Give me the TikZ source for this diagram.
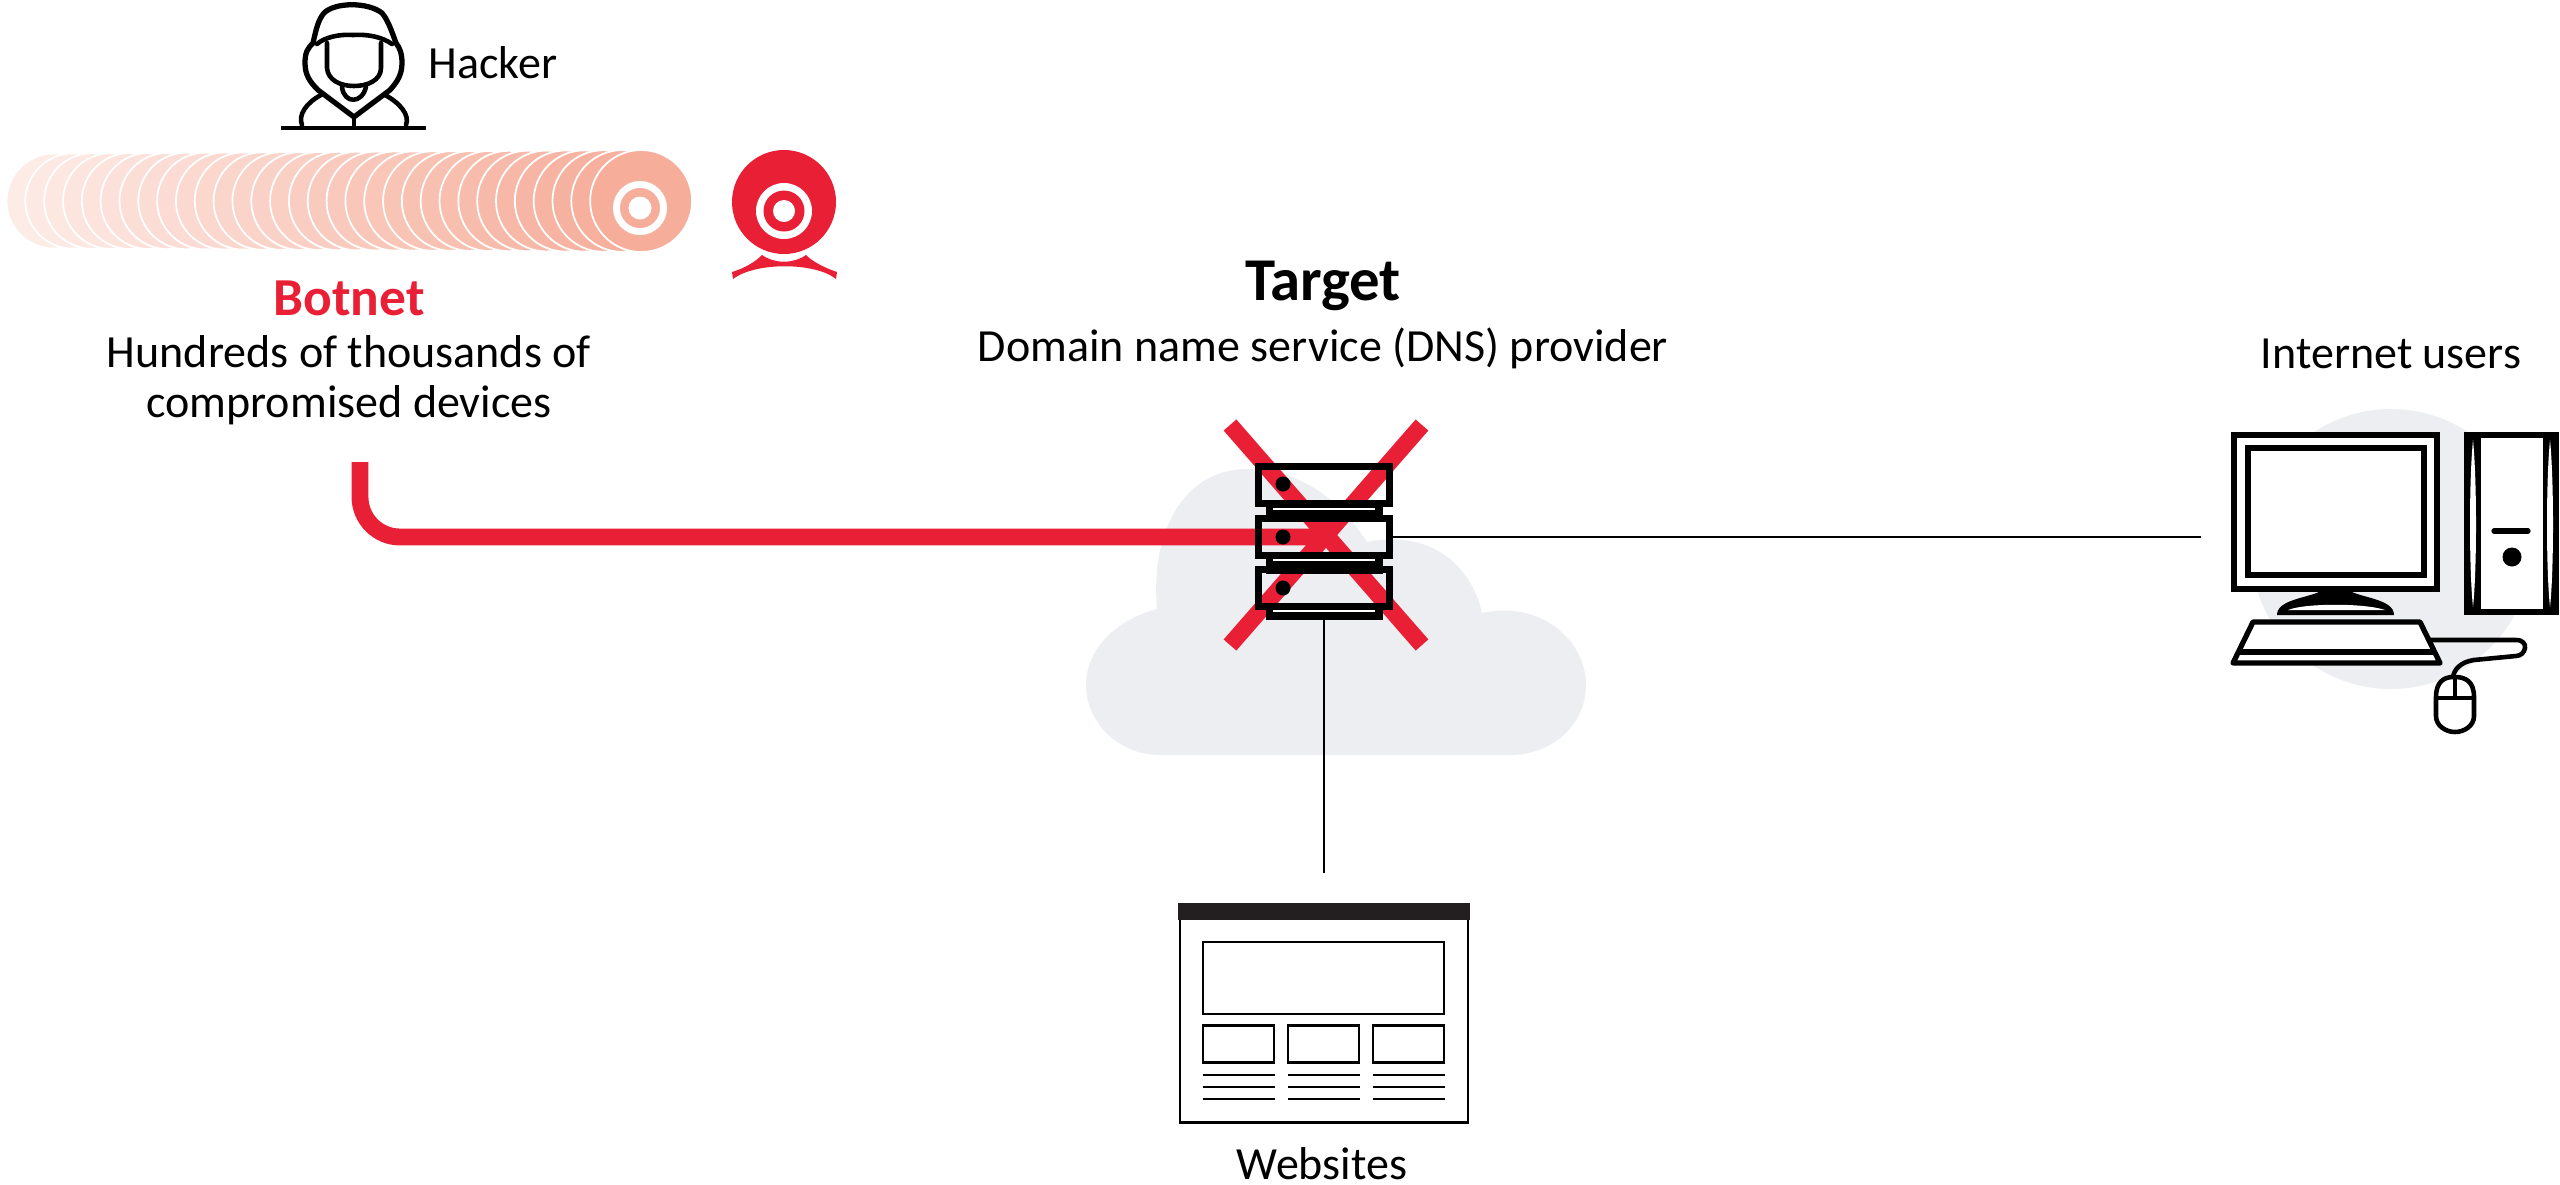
\documentclass[tikz,border=0pt]{standalone}
\usepackage{fontspec}
\setmainfont{Carlito}
\usepackage{xcolor}
\definecolor{botred}{HTML}{E91F36}
\definecolor{botpeach}{HTML}{F6AE9B}
\definecolor{cloudgrey}{HTML}{ECEEF1}
\definecolor{webbar}{HTML}{231F20}
\tikzset{
  lbl/.style={inner sep=0pt,font=\fontsize{13.1}{15}\selectfont},
  link/.style={line width=0.6pt,black},
  redlink/.style={line width=4.8pt,botred},
  srvunit/.style={draw=black,line width=2pt,minimum width=1.31cm,minimum height=0.37cm,inner sep=0pt},
  srvtray/.style={fill=black,minimum width=1.17cm,inner sep=0pt},
  srvslit/.style={fill=white,minimum width=1.02cm,minimum height=0.018cm,inner sep=0pt},
  webbox/.style={draw=black,line width=0.8pt,fill=white,inner sep=0pt},
  icon/.style={black,line width=1.3pt,line join=round,line cap=round},
}
\begin{document}
\begin{tikzpicture}[x=0.1mm,y=-0.1mm]
\useasboundingbox (0,0) rectangle (2560,1185);
\fill[cloudgrey] (1160,755) .. controls (1118,755) and (1086,722) .. (1086,685)
  .. controls (1086,650) and (1115,620) .. (1157,609)
  .. controls (1150,530) and (1185,469) .. (1247,469)
  .. controls (1300,469) and (1340,500) .. (1367,542)
  .. controls (1425,530) and (1470,560) .. (1482,613)
  .. controls (1540,600) and (1586,640) .. (1586,685)
  .. controls (1586,725) and (1552,755) .. (1510,755) -- cycle;
\fill[cloudgrey] (2391,549) circle[radius=140];
\foreach \i in {0,...,31} {
  \pgfmathsetmacro{\pct}{25+75*\i/31}
  \fill[botpeach!\pct!white,draw=white,line width=0.5pt] ({54+\i*18.94},201) circle[radius={47.5+\i*3.5/31}];
}
\fill[white] (640,208) circle[radius=27];
\fill[botpeach] (640,208) circle[radius=20];
\fill[white] (640,208) circle[radius=11.5];
\fill[botred] (784,202) circle[radius=52];
\fill[white] (784,211) circle[radius=28];
\fill[botred] (784,211) circle[radius=20.5];
\fill[white] (784,211) circle[radius=11];
\fill[botred] (732,272) .. controls (745,268) and (755,262) .. (762,255)
  .. controls (775,264) and (793,264) .. (806,255)
  .. controls (813,262) and (825,268) .. (837,272) -- (836,279)
  .. controls (815,262) and (755,262) .. (733,279) -- cycle;
\node[lbl,anchor=west] (hackerlbl) at (428,63) {Hacker};
\node[lbl,text=botred,font=\fontsize{15.2}{17}\selectfont\bfseries] (botnetlbl) at (349,298) {Botnet};
\node[lbl] (hundredslbl) at (349,352) {Hundreds of thousands of};
\node[lbl] (compromisedlbl) at (349,405) {compromised devices};
\node[lbl,font=\fontsize{17.3}{19}\selectfont\bfseries] (targetlbl) at (1323,286) {Target};
\node[lbl] (dnslbl) at (1323,348) {Domain name service (DNS) provider};
\node[lbl] (userslbl) at (2391,354) {Internet users};
\node[lbl] (websiteslbl) at (1322,1164) {Websites};
\draw[icon,line width=1.5pt] (354,117) -- (318,90) .. controls (310,82) and (305,75) .. (305,63)
  .. controls (305,52) and (308,48) .. (313,43) .. controls (316,30) and (318,20) .. (324,13)
  .. controls (335,2) and (368,2) .. (382,13) .. controls (388,20) and (392,32) .. (396,43)
  .. controls (400,48) and (402,54) .. (402,63) .. controls (402,75) and (397,82) .. (390,90) -- cycle;
\draw[icon] (317,44) .. controls (325,37) and (340,34) .. (353,35) .. controls (368,34) and (382,37) .. (392,44);
\draw[icon] (327,43) -- (327,68) .. controls (328,80) and (340,86) .. (354,86) .. controls (368,86) and (381,80) .. (381,68) -- (381,43);
\draw[icon] (342,87) .. controls (344,104) and (362,104) .. (366,87);
\draw[icon] (321,95) .. controls (306,103) and (298,115) .. (302,125);
\draw[icon] (385,95) .. controls (400,103) and (410,115) .. (406,125);
\draw[icon] (354,117) -- (354,127);
\draw[black,line width=1.3pt] (281,128) -- (426,128);
\coordinate (botstart) at (360,462);
\coordinate (hub) at (1326,537);
\draw[redlink,rounded corners=4mm] (botstart) |- (hub);
\draw[botred,line width=4.8pt] (1230,425) -- (1422,645);
\draw[botred,line width=4.8pt] (1422,425) -- (1230,645);
\node[srvtray,minimum height=0.22cm] (trayA) at (1324,511) {};
\node[srvtray,minimum height=0.22cm] (trayB) at (1324,563) {};
\node[srvtray,minimum height=0.11cm] (trayC) at (1324,614) {};
\node[srvunit] (srvA) at (1324,485) {};
\node[srvunit] (srvB) at (1324,537) {};
\node[srvunit] (srvC) at (1324,588) {};
\node[srvslit] (slitA) at (1324,509) {};
\node[srvslit] (slitB) at (1324,560) {};
\node[srvslit] (slitC) at (1324,611) {};
\fill[black] (1283,484) circle[radius=7.5];
\fill[black] (1283,537) circle[radius=7.5];
\fill[black] (1283,588) circle[radius=7.5];
\node[webbox,line width=1.7pt,minimum width=0.89cm,minimum height=1.77cm] (tower) at (2511.5,523.5) {};
\node[draw=black,fill=white,line width=1.8pt,inner sep=0pt,minimum width=2.03cm,minimum height=1.54cm] (monitor) at (2335.5,512) {};
\draw[black,line width=1.5pt] (2248,448) rectangle (2424,575);
\coordinate (pcend) at (2201,537);
\draw[link] (srvB.east) -- (pcend);
\coordinate (webtop) at (1324,873);
\draw[link] (trayC.south) -- (webtop);
\node[webbox,minimum width=2.88cm,minimum height=2.18cm] (webpage) at (1324,1013.5) {};
\fill[webbar] (1178,903) rectangle (1470,920);
\node[webbox,minimum width=2.41cm,minimum height=0.72cm] (hero) at (1323.5,978) {};
\foreach \colx/\nm in {1238.5/a,1323.5/b,1408.5/c} {
  \node[webbox,minimum width=0.71cm,minimum height=0.37cm] (tile\nm) at (\colx,1044) {};
  \foreach \rowy in {1075,1087,1099}
    \draw[black,line width=0.8pt] (\colx-36,\rowy) -- (\colx+36,\rowy);
}
\fill[black] (2319,592) -- (2352,592) .. controls (2365,598) and (2394,600) .. (2394,615)
  -- (2277,615) .. controls (2277,600) and (2306,598) .. (2319,592) -- cycle;
\fill[white] (2288,610) .. controls (2305,603) and (2365,603) .. (2385,610) -- cycle;
\fill[white,draw=black,line width=1.5pt,line join=round] (2253,622) -- (2420,622) -- (2440,663) -- (2233,663) -- cycle;
\draw[black,line width=1.8pt] (2238,652) -- (2436,652);
\fill[black] (2464,438) rectangle (2481,612);
\fill[black] (2543,438) rectangle (2559,612);
\fill[white] (2473,440) .. controls (2477,480) and (2477,570) .. (2473,607) .. controls (2469,570) and (2469,480) .. (2473,440) -- cycle;
\fill[white] (2550,440) .. controls (2554,480) and (2554,570) .. (2550,607) .. controls (2546,570) and (2546,480) .. (2550,440) -- cycle;
\draw[black,line width=1.5pt,line cap=round] (2494,531) -- (2528,531);
\fill[black] (2512,557) circle[radius=9.5];
\draw[icon] (2430,640) -- (2516,640) .. controls (2530,640) and (2526,656) .. (2516,656)
  -- (2474,660) .. controls (2460,662) and (2454,670) .. (2453,677);
\fill[white,draw=black,line width=1.3pt] (2436,697) .. controls (2436,682) and (2444,677) .. (2453,677)
  -- (2455,677) .. controls (2466,677) and (2474,682) .. (2474,697) -- (2474,716)
  .. controls (2474,726) and (2464,732) .. (2455,732) .. controls (2446,732) and (2436,726) .. (2436,716) -- cycle;
\draw[black,line width=1.1pt] (2436,698) -- (2474,698) (2455,677) -- (2455,698);
\end{tikzpicture}
\end{document}
